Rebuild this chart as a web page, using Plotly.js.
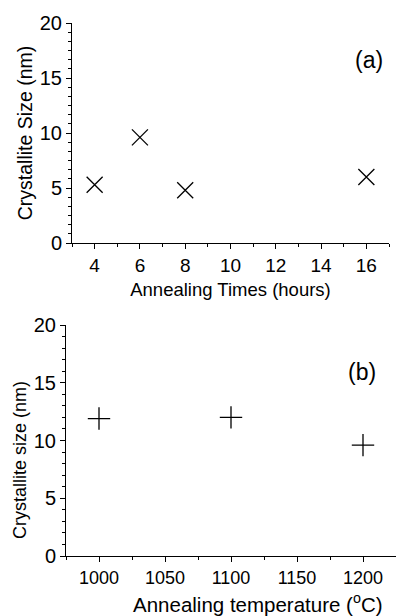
<!DOCTYPE html>
<html>
<head>
<meta charset="utf-8">
<script src="https://cdn.plot.ly/plotly-3.0.1.min.js"></script>
<style>html,body{margin:0;padding:0;background:#fff;}#plot{width:396px;height:616px;}</style>
</head>
<body>
<div id="plot"></div>
<script>
// Panel (a): crystallite size vs annealing time
const annealTimes = [4, 6, 8, 16];
const sizeVsTime = [5.3, 9.6, 4.8, 6.0];
const timeTicks = [4, 6, 8, 10, 12, 14, 16];

// Panel (b): crystallite size vs annealing temperature
const annealTemps = [1000, 1100, 1200];
const sizeVsTemp = [11.9, 12.0, 9.6];
const tempTicks = [1000, 1050, 1100, 1150, 1200];

const sizeTicks = [0, 5, 10, 15, 20];

const W = 396, H = 616;
const font = 'Arial, "Liberation Sans", sans-serif';

const traces = [
  {
    x: annealTimes, y: sizeVsTime, type: 'scatter', mode: 'markers',
    xaxis: 'x', yaxis: 'y',
    marker: {symbol: 'x-thin', size: 16, color: '#000', line: {width: 1.3, color: '#000'}}
  },
  {
    x: annealTemps, y: sizeVsTemp, type: 'scatter', mode: 'markers',
    xaxis: 'x2', yaxis: 'y2',
    marker: {symbol: 'cross-thin', size: 16, color: '#000', line: {width: 1.3, color: '#000'}}
  }
];

function ax(extra, tsize) {
  return Object.assign({
    showline: true, linecolor: '#000', linewidth: 1, mirror: false,
    showgrid: false, zeroline: false,
    ticks: 'outside', ticklen: 5, tickwidth: 1, tickcolor: '#000',
    tickfont: {family: font, size: tsize, color: '#000'},
    fixedrange: true
  }, extra);
}

const layout = {
  width: W, height: H,
  margin: {l: 0, r: 0, t: 0, b: 0},
  paper_bgcolor: '#fff', plot_bgcolor: '#fff',
  showlegend: false,
  font: {family: font, color: '#000'},
  xaxis: ax({
    domain: [72 / W, 389 / W], anchor: 'y', range: [3, 17],
    tickmode: 'array', tickvals: timeTicks, ticktext: timeTicks.map(String),
    minor: {dtick: 1, tick0: 3, ticks: 'outside', ticklen: 3, tickcolor: '#000', tickwidth: 1},
    title: {text: 'Annealing Times (hours)', font: {family: font, size: 18.5, color: '#000'}, standoff: 8}
  }, 19),
  yaxis: ax({
    domain: [1 - 243 / H, 1 - 23 / H], anchor: 'x', range: [0, 20],
    tickmode: 'array', tickvals: sizeTicks, ticktext: sizeTicks.map(String),
    minor: {dtick: 5 / 6, tick0: 0, ticks: 'outside', ticklen: 3, tickcolor: '#000', tickwidth: 1},
    title: {text: 'Crystallite Size (nm)', font: {family: font, size: 19.5, color: '#000'}, standoff: 1}
  }, 20),
  xaxis2: ax({
    domain: [66 / W, 1], anchor: 'y2', range: [975, 1225],
    tickmode: 'array', tickvals: tempTicks, ticktext: tempTicks.map(String),
    minor: {dtick: 25, tick0: 975, ticks: 'outside', ticklen: 3, tickcolor: '#000', tickwidth: 1}
  }, 18),
  yaxis2: ax({
    domain: [1 - 556 / H, 1 - 325 / H], anchor: 'x2', range: [0, 20],
    tickmode: 'array', tickvals: sizeTicks, ticktext: sizeTicks.map(String),
    minor: {dtick: 1, tick0: 0, ticks: 'outside', ticklen: 3, tickcolor: '#000', tickwidth: 1}
  }, 20),
  annotations: [
    {text: '(a)', xref: 'paper', yref: 'paper', x: 369 / W, y: 1 - 60 / H,
     xanchor: 'center', yanchor: 'middle', showarrow: false, font: {family: font, size: 23, color: '#000'}},
    {text: '(b)', xref: 'paper', yref: 'paper', x: 362 / W, y: 1 - 372 / H,
     xanchor: 'center', yanchor: 'middle', showarrow: false, font: {family: font, size: 23, color: '#000'}},
    {text: 'Annealing temperature (<sup>o</sup>C)', xref: 'paper', yref: 'paper', x: 258 / W, y: 1 - 603 / H,
     xanchor: 'center', yanchor: 'middle', showarrow: false, font: {family: font, size: 20.5, color: '#000'}},
    {text: 'Crystallite size (nm)', xref: 'paper', yref: 'paper', x: 20 / W, y: 1 - 460 / H, textangle: -90,
     xanchor: 'center', yanchor: 'middle', showarrow: false, font: {family: font, size: 18, color: '#000'}}
  ]
};

Plotly.newPlot('plot', traces, layout, {staticPlot: true, displayModeBar: false});
</script>
</body>
</html>
